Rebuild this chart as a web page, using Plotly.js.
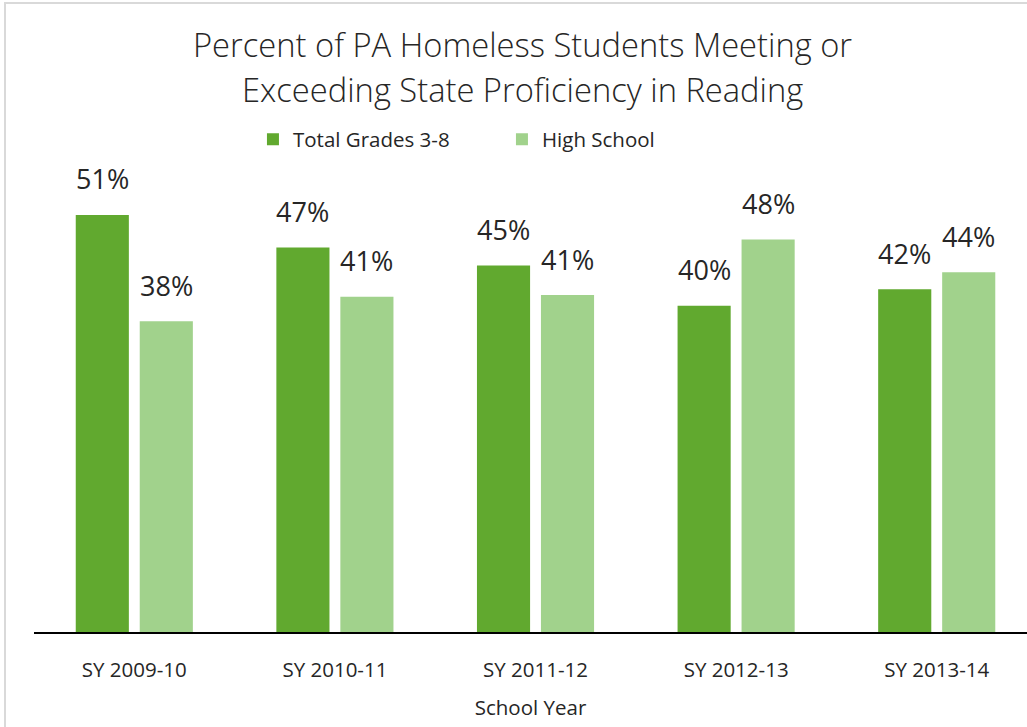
<!DOCTYPE html>
<html>
<head>
<meta charset="utf-8">
<script src="https://cdn.plot.ly/plotly-3.0.1.min.js"></script>
<style>
  html, body { margin: 0; padding: 0; background: #fff; overflow: hidden; }
  #chart { width: 1027px; height: 727px; }
  #frame { position: absolute; left: 4px; top: 2px; width: 1100px; height: 800px;
           border: 2px solid #d9d9d9; pointer-events: none; }
</style>
</head>
<body>
<div id="chart"></div>
<div id="frame"></div>
<script>
const categories = ["SY 2009-10", "SY 2010-11", "SY 2011-12", "SY 2012-13", "SY 2013-14"];
const seriesNames = ["Total Grades 3-8", "High School"];
const grades38 = [0.51, 0.47, 0.448, 0.399, 0.419];
const highSchool = [0.38, 0.41, 0.412, 0.48, 0.44];
const titleLines = ["Percent of PA Homeless Students Meeting or", "Exceeding State Proficiency in Reading"];
const xTitle = "School Year";
const colors = ["#61a92f", "#a1d28c"];

const FONT = "Open Sans, Segoe UI, sans-serif";
const TXT = "#262626";

const series = [grades38, highSchool];
const traces = series.map((vals, i) => ({
  type: "bar",
  name: seriesNames[i],
  x: categories,
  y: vals,
  marker: { color: colors[i] },
  hoverinfo: "skip"
}));

const annotations = [];
series.forEach((vals, i) => {
  vals.forEach((v, j) => {
    annotations.push({
      x: categories[j], y: v, xref: "x", yref: "y",
      text: Math.round(v * 100) + "%",
      showarrow: false,
      xshift: i === 0 ? -32 : 32,
      yshift: 36,
      yanchor: "middle",
      font: { family: FONT, size: 27, color: TXT }
    });
  });
});

const titleY = [1.1484, 1.0605];
titleLines.forEach((t, k) => {
  annotations.push({
    text: t, xref: "paper", yref: "paper",
    x: 0.4924, y: titleY[k], xanchor: "center", yanchor: "middle",
    showarrow: false,
    font: { family: FONT, size: 32.7, color: TXT, weight: 300 }
  });
});

const layout = {
  width: 1027, height: 727,
  paper_bgcolor: "#fff", plot_bgcolor: "#fff",
  margin: { l: 34, r: 0, t: 120, b: 95 },
  barmode: "group",
  bargap: 0.362,
  bargroupgap: 0.17,
  showlegend: true,
  legend: {
    orientation: "h",
    x: 0.2205, xanchor: "left",
    y: 0.962, yanchor: "middle",
    entrywidth: 204, entrywidthmode: "pixels",
    font: { family: FONT, size: 20.5, color: TXT },
    bgcolor: "rgba(0,0,0,0)"
  },
  xaxis: {
    type: "category",
    range: [-0.5, 4.45],
    showline: true, linecolor: "#000", linewidth: 2,
    showgrid: false, zeroline: false,
    ticks: "", ticklabelstandoff: 18,
    tickfont: { family: FONT, size: 20.5, color: TXT },
    title: { text: xTitle, standoff: 19,
             font: { family: FONT, size: 20.5, color: TXT } },
    fixedrange: true
  },
  yaxis: {
    range: [0, 0.626],
    visible: false,
    showgrid: false, zeroline: false,
    fixedrange: true
  },
  annotations: annotations
};

Plotly.newPlot("chart", traces, layout, { displayModeBar: false, staticPlot: true });
</script>
</body>
</html>
